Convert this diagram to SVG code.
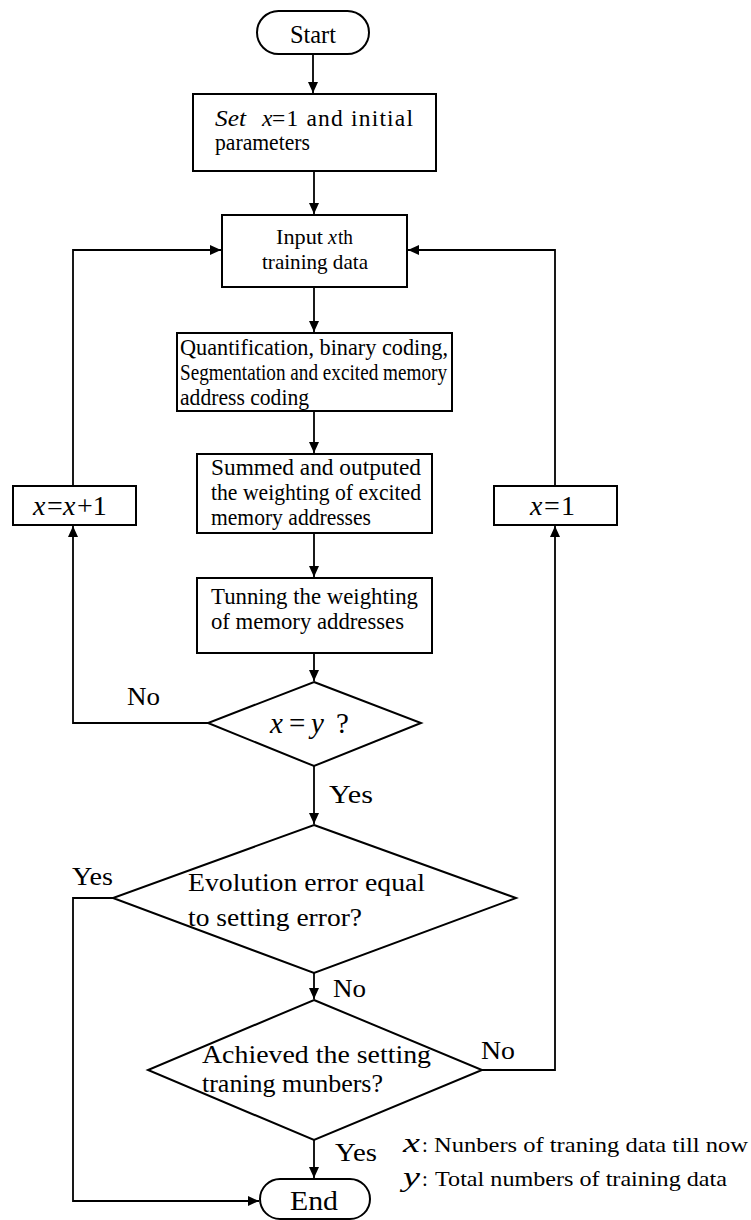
<svg xmlns="http://www.w3.org/2000/svg" width="751" height="1220" viewBox="0 0 751 1220">
<style>
  .box{fill:#fff;stroke:#000;stroke-width:2}
  .ln{fill:none;stroke:#000;stroke-width:1.8}
  text{font-family:"Liberation Serif","Times New Roman",serif;fill:#000}
  .t23{font-size:23.5px}
  .t22{font-size:22px}
  .t26{font-size:26px}
  .lbl{font-size:26px}
  .it{font-style:italic}
  .leg{font-size:21px}
</style>
<defs>
  <marker id="ah" markerUnits="userSpaceOnUse" markerWidth="12" markerHeight="12" viewBox="0 0 12 12" refX="11" refY="6" orient="auto">
    <path d="M0,1 L11,6 L0,11 Z" fill="#000"/>
  </marker>
</defs>
<rect width="751" height="1220" fill="#fff"/>

<g id="connectors">
  <path class="ln" d="M313,54 V93" marker-end="url(#ah)"/>
  <path class="ln" d="M314,171 V214" marker-end="url(#ah)"/>
  <path class="ln" d="M314,287 V332" marker-end="url(#ah)"/>
  <path class="ln" d="M314,411 V453" marker-end="url(#ah)"/>
  <path class="ln" d="M314,533 V577" marker-end="url(#ah)"/>
  <path class="ln" d="M314,653 V681" marker-end="url(#ah)"/>
  <path class="ln" d="M208,723 H73 V526" marker-end="url(#ah)"/>
  <path class="ln" d="M73,486 V250 H221" marker-end="url(#ah)"/>
  <path class="ln" d="M314,766 V824" marker-end="url(#ah)"/>
  <path class="ln" d="M113,898 H73 V1201 H259" marker-end="url(#ah)"/>
  <path class="ln" d="M314,973 V999" marker-end="url(#ah)"/>
  <path class="ln" d="M482,1070 H555 V526" marker-end="url(#ah)"/>
  <path class="ln" d="M555,486 V250 H408" marker-end="url(#ah)"/>
  <path class="ln" d="M314,1140 V1178" marker-end="url(#ah)"/>
</g>

<g id="start">
  <rect class="box" x="257" y="11" width="112" height="43" rx="21.5"/>
  <text x="313" y="43" text-anchor="middle" font-size="25" textLength="46" lengthAdjust="spacingAndGlyphs">Start</text>
</g>

<g id="set">
  <rect class="box" x="193" y="94" width="243" height="77"/>
  <text class="t23 it" x="215" y="126" textLength="31" lengthAdjust="spacingAndGlyphs">Set</text>
  <text class="t23 it" x="262" y="126">x</text>
  <text class="t23" x="272" y="126" textLength="141" lengthAdjust="spacing">=1 and initial</text>
  <text class="t23" x="215" y="150" textLength="95" lengthAdjust="spacingAndGlyphs">parameters</text>
</g>

<g id="input">
  <rect class="box" x="222" y="215" width="185" height="72"/>
  <text class="t22" x="276" y="244" textLength="47" lengthAdjust="spacingAndGlyphs">Input</text>
  <text class="t22 it" x="328" y="244" textLength="9" lengthAdjust="spacingAndGlyphs">x</text>
  <text class="t22" x="338" y="244" textLength="15" lengthAdjust="spacingAndGlyphs">th</text>
  <text class="t22" x="315" y="269" text-anchor="middle" textLength="106" lengthAdjust="spacingAndGlyphs">training data</text>
</g>

<g id="quant">
  <rect class="box" x="177" y="333" width="275" height="78"/>
  <text class="t23" x="180" y="355" textLength="268" lengthAdjust="spacingAndGlyphs">Quantification, binary coding,</text>
  <text class="t23" x="180" y="380" textLength="267" lengthAdjust="spacingAndGlyphs">Segmentation and excited memory</text>
  <text class="t23" x="180" y="405" textLength="129" lengthAdjust="spacingAndGlyphs">address coding</text>
</g>

<g id="summed">
  <rect class="box" x="197" y="454" width="235" height="79"/>
  <text class="t23" x="211" y="475" textLength="210" lengthAdjust="spacingAndGlyphs">Summed and outputed</text>
  <text class="t23" x="211" y="500" textLength="210" lengthAdjust="spacingAndGlyphs">the weighting of excited</text>
  <text class="t23" x="211" y="525" textLength="160" lengthAdjust="spacingAndGlyphs">memory addresses</text>
</g>

<g id="tunning">
  <rect class="box" x="197" y="578" width="235" height="75"/>
  <text class="t23" x="211" y="604" textLength="207" lengthAdjust="spacingAndGlyphs">Tunning the weighting</text>
  <text class="t23" x="211" y="629" textLength="193" lengthAdjust="spacingAndGlyphs">of memory addresses</text>
</g>

<g id="xinc">
  <rect class="box" x="13" y="486" width="123" height="39"/>
  <text font-size="28" y="515"><tspan class="it" x="33">x</tspan><tspan x="47">=</tspan><tspan class="it" x="63">x</tspan><tspan x="77">+1</tspan></text>
</g>

<g id="xone">
  <rect class="box" x="494" y="486" width="123" height="39"/>
  <text font-size="28" y="515"><tspan class="it" x="530">x</tspan><tspan x="544">=</tspan><tspan x="561">1</tspan></text>
</g>

<g id="dec1">
  <polygon class="box" points="314,682 421,723 314,766 208,723"/>
  <text font-size="29" y="733"><tspan class="it" x="270">x</tspan><tspan x="289">=</tspan><tspan class="it" x="311">y</tspan><tspan x="336">?</tspan></text>
</g>

<g id="dec2">
  <polygon class="box" points="314,825 516,898 314,973 113,898"/>
  <text class="t26" x="188" y="891" textLength="237" lengthAdjust="spacingAndGlyphs">Evolution error equal</text>
  <text class="t26" x="188" y="926" textLength="174" lengthAdjust="spacingAndGlyphs">to setting error?</text>
</g>

<g id="dec3">
  <polygon class="box" points="314,1000 482,1070 314,1140 148,1070"/>
  <text class="t26" x="202" y="1063" textLength="229" lengthAdjust="spacingAndGlyphs">Achieved the setting</text>
  <text class="t26" x="202" y="1092" textLength="181" lengthAdjust="spacingAndGlyphs">traning munbers?</text>
</g>

<g id="end">
  <rect class="box" x="260" y="1179" width="110" height="40" rx="20"/>
  <text x="314" y="1210" text-anchor="middle" font-size="27" textLength="48" lengthAdjust="spacingAndGlyphs">End</text>
</g>

<g id="labels">
  <text class="lbl" x="127" y="705" textLength="33" lengthAdjust="spacingAndGlyphs">No</text>
  <text class="lbl" x="329" y="803" textLength="44" lengthAdjust="spacingAndGlyphs">Yes</text>
  <text class="lbl" x="72" y="885" textLength="41" lengthAdjust="spacingAndGlyphs">Yes</text>
  <text class="lbl" x="333" y="997" textLength="33" lengthAdjust="spacingAndGlyphs">No</text>
  <text class="lbl" x="481" y="1059" textLength="34" lengthAdjust="spacingAndGlyphs">No</text>
  <text class="lbl" x="335" y="1161" textLength="42" lengthAdjust="spacingAndGlyphs">Yes</text>
</g>

<g id="legend">
  <text class="it" font-size="28" x="403" y="1152" textLength="17" lengthAdjust="spacingAndGlyphs">x</text>
  <text class="leg" x="422" y="1152">:</text>
  <text class="leg" x="434" y="1152" textLength="314" lengthAdjust="spacingAndGlyphs">Nunbers of traning data till now</text>
  <text class="it" font-size="28" x="403" y="1186" textLength="17" lengthAdjust="spacingAndGlyphs">y</text>
  <text class="leg" x="422" y="1186">:</text>
  <text class="leg" x="435" y="1186" textLength="292" lengthAdjust="spacingAndGlyphs">Total numbers of training data</text>
</g>
</svg>
